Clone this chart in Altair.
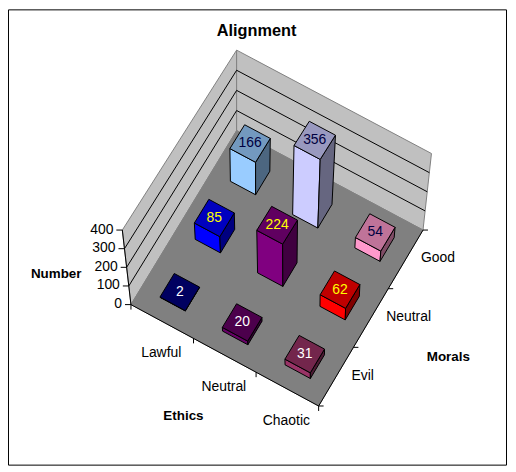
import altair as alt

# ---- data ----
ethics = ["Lawful", "Neutral", "Chaotic"]
morals = ["Evil", "Neutral", "Good"]
values = [[2, 20, 31], [85, 224, 62], [166, 356, 54]]          # rows: morals, cols: ethics
front_colors = [["#000080", "#660066", "#993366"],
                ["#0000FF", "#800080", "#FF0000"],
                ["#99CCFF", "#CCCCFF", "#FF99CC"]]
label_colors = [["#FFFFFF", "#FFFFFF", "#FFFFFF"],
                ["#FFFF00", "#FFFF00", "#FFFF00"],
                ["#000040", "#000040", "#000040"]]
z_ticks = [0, 100, 200, 300, 400]
ZMAX = 400
FONT = "Liberation Sans"

W, H = 503, 460
OX, OY = 8, 8  # page margin


def pg(x, y):
    return (x - OX, y - OY)


# 3D box corners in page pixels: [u][v]  (u = ethics, v = morals)
floor = {(0, 0): pg(131.7, 305), (1, 0): pg(320.5, 407), (0, 1): pg(238, 130), (1, 1): pg(425.5, 230)}
roof = {(0, 0): pg(123, 230), (1, 0): pg(319.5, 334), (0, 1): pg(238, 49), (1, 1): pg(434, 153)}


def bil(c, u, v):
    xs = [(1-u)*(1-v), u*(1-v), (1-u)*v, u*v]
    keys = [(0, 0), (1, 0), (0, 1), (1, 1)]
    return (sum(w*c[k][0] for w, k in zip(xs, keys)), sum(w*c[k][1] for w, k in zip(xs, keys)))


def P(u, v, z):
    a, b = bil(floor, u, v), bil(roof, u, v)
    t = z / ZMAX
    return [a[0] + (b[0]-a[0])*t, a[1] + (b[1]-a[1])*t]


def shade(hexcol, f):
    r, g, b = (int(hexcol[i:i+2], 16) for i in (1, 3, 5))
    return "#%02X%02X%02X" % (round(r*f), round(g*f), round(b*f))


features = []


def poly(pts, fill, stroke="#000000", sw=1.0):
    ring = [list(p) for p in pts] + [list(pts[0])]
    features.append({"type": "Feature", "geometry": {"type": "Polygon", "coordinates": [ring]},
                     "properties": {"fill": fill, "stroke": stroke, "sw": sw}})


def line(pts, stroke="#000000", sw=1.0):
    features.append({"type": "Feature", "geometry": {"type": "LineString", "coordinates": [list(p) for p in pts]},
                     "properties": {"fill": "transparent", "stroke": stroke, "sw": sw}})


# bounding feature: makes the identity projection's fit map 1:1 onto pixels
poly([(0, 0), (W, 0), (W, H), (0, H)], "transparent", "transparent", 0)
# chart frame
poly([(0.5, 0.5), (501.5, 0.5), (501.5, 458.5), (0.5, 458.5)], "#FFFFFF", "#000000", 1)

# walls and floor
poly([P(0, 0, 0), P(0, 1, 0), P(0, 1, ZMAX), P(0, 0, ZMAX)], "#C0C0C0", "#808080")
poly([P(0, 1, 0), P(1, 1, 0), P(1, 1, ZMAX), P(0, 1, ZMAX)], "#C0C0C0", "#808080")
poly([P(0, 0, 0), P(1, 0, 0), P(1, 1, 0), P(0, 1, 0)], "#808080", "#808080")

# gridlines
for z in z_ticks[1:-1]:
    line([P(0, 0, z), P(0, 1, z), P(1, 1, z)])

# axes
line([P(0, 0, 0), P(0, 0, ZMAX)])
line([P(0, 0, 0), P(1, 0, 0), P(1, 1, 0)])
for z in z_ticks:
    a = P(0, 0, z)
    line([a, [a[0]-6, a[1]]])
for i in range(4):
    a = P(i/3, 0, 0)
    line([a, [a[0], a[1]+5]])
    b = P(1, i/3, 0)
    line([b, [b[0]+5, b[1]]])

# bars, back to front
HALF = 0.0675
labels = []
for j in (2, 1, 0):
    for i in range(3):
        val = values[j][i]
        col = front_colors[j][i]
        u, v = (i+.5)/3, (j+.5)/3
        u0, u1, v0, v1 = u-HALF, u+HALF, v-HALF, v+HALF
        poly([P(u0, v0, 0), P(u1, v0, 0), P(u1, v0, val), P(u0, v0, val)], col)
        poly([P(u1, v0, 0), P(u1, v1, 0), P(u1, v1, val), P(u1, v0, val)], shade(col, 0.5))
        poly([P(u0, v0, val), P(u1, v0, val), P(u1, v1, val), P(u0, v1, val)], shade(col, 0.75))
        c = P(u, v, val)
        labels.append({"x": c[0], "y": c[1], "t": str(val), "c": label_colors[j][i]})

# tick labels
ticktext = []
for z in z_ticks:
    a = P(0, 0, z)
    ticktext.append({"x": a[0]-9, "y": a[1]-0.5, "t": str(z), "a": "right"})
for i, name in enumerate(ethics):
    a = P((i+.5)/3, 0, 0)
    ticktext.append({"x": a[0]-1, "y": a[1]+32, "t": name, "a": "center"})
for j, name in enumerate(morals):
    a = P(1, (j+.5)/3, 0)
    ticktext.append({"x": a[0]+15.5, "y": a[1]-1, "t": name, "a": "left"})

titles = [
    {"x": 258-OX, "y": 30-OY, "t": "Alignment", "s": 16.4},
    {"x": 56.5-OX, "y": 274-OY, "t": "Number", "s": 13.5},
    {"x": 184.5-OX, "y": 417-OY, "t": "Ethics", "s": 13.5},
    {"x": 451-OX, "y": 358-OY, "t": "Morals", "s": 13.5},
]

X = alt.X("x:Q", scale=alt.Scale(domain=[0, W], nice=False, zero=False), axis=None)
Y = alt.Y("y:Q", scale=alt.Scale(domain=[0, H], nice=False, zero=False, reverse=True), axis=None)

shapes = alt.Chart(alt.Data(values=features)).mark_geoshape().encode(
    fill=alt.Fill("properties.fill:N", scale=None),
    stroke=alt.Stroke("properties.stroke:N", scale=None),
    strokeWidth=alt.StrokeWidth("properties.sw:Q", scale=None),
).project(type="identity")

bar_text = alt.Chart(alt.Data(values=labels)).mark_text(font=FONT, fontSize=14, baseline="middle").encode(
    x=X, y=Y, text="t:N", color=alt.Color("c:N", scale=None))


def tick_layer(align):
    rows = [t for t in ticktext if t["a"] == align]
    return alt.Chart(alt.Data(values=rows)).mark_text(
        font=FONT, fontSize=14, baseline="middle", align=align, color="#000000").encode(x=X, y=Y, text="t:N")


title_text = alt.Chart(alt.Data(values=titles)).mark_text(
    font=FONT, fontWeight="bold", baseline="middle", align="center", color="#000000").encode(
    x=X, y=Y, text="t:N", size=alt.Size("s:Q", scale=None))

chart = alt.layer(shapes, bar_text, tick_layer("right"), tick_layer("center"), tick_layer("left"), title_text).resolve_scale(
    x="shared", y="shared"
).properties(width=W, height=H, padding=0, autosize=alt.AutoSizeParams(type="none")).configure_view(stroke=None)

chart.save("out.html", embed_options={"renderer": "svg", "actions": False})
